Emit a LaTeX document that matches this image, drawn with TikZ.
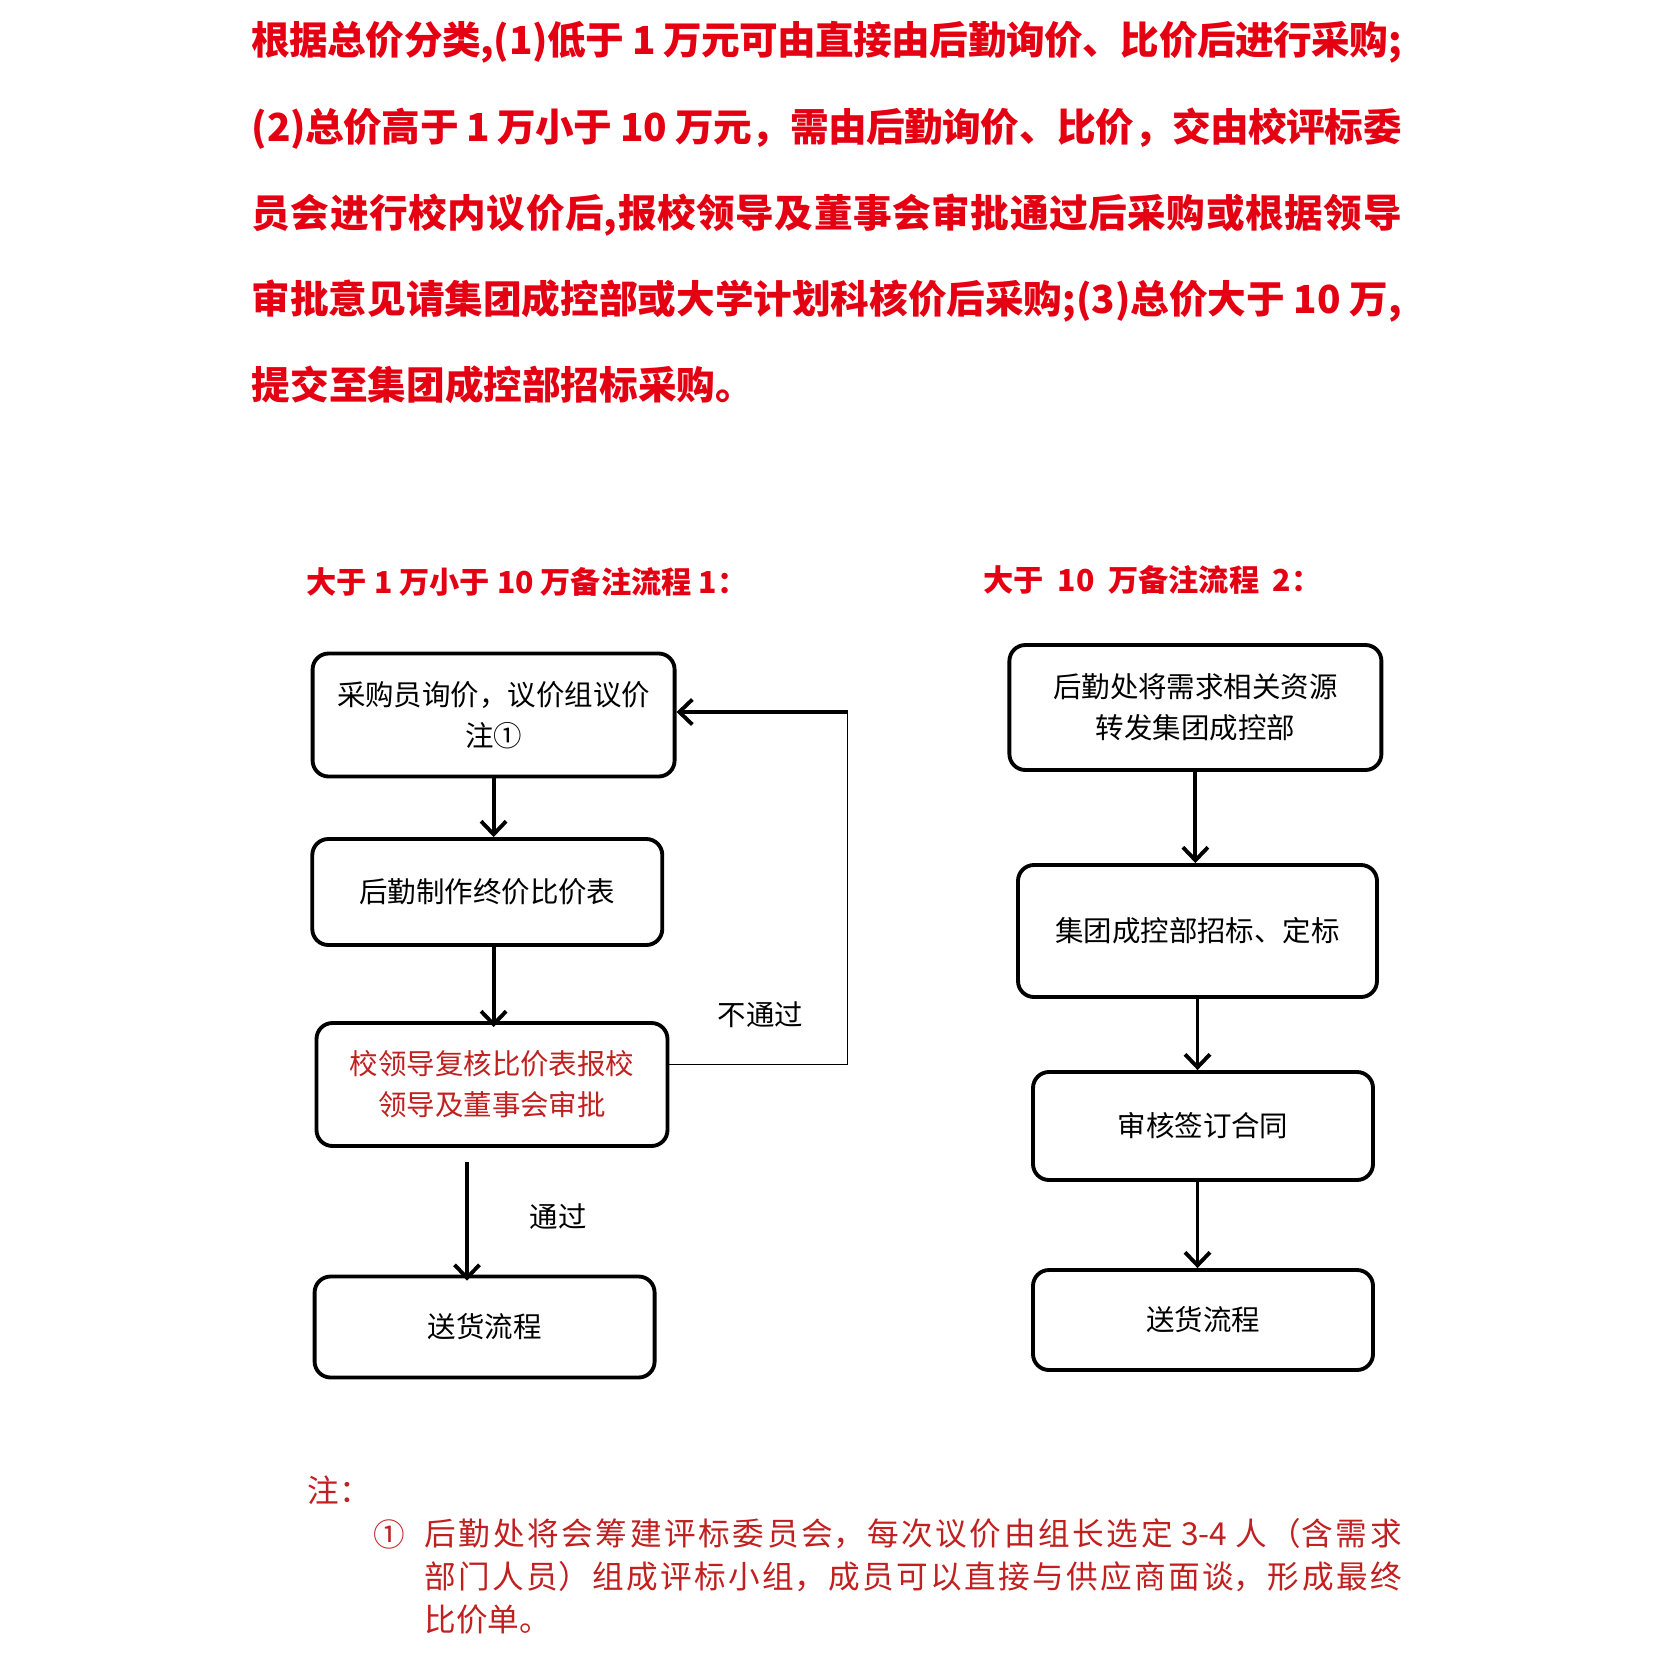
\documentclass[tikz,border=0pt]{standalone}
\usepackage{fontspec}
\setmainfont{Noto Sans CJK SC}
\XeTeXlinebreaklocale "zh"
\XeTeXlinebreakskip=0pt plus 2pt minus 0.4pt
\usetikzlibrary{positioning,arrows.meta}
\definecolor{topred}{RGB}{228,0,18}
\definecolor{notered}{RGB}{192,32,32}

\begin{document}
\begin{tikzpicture}[x=0.1mm,y=-0.1mm,>={Straight Barb[length=1.3mm,width=2.5mm]},
  every node/.style={inner sep=0pt},
  box/.style={draw,line width=1.1pt,rounded corners=1.6mm,align=center,font=\fontsize{8.1pt}{11.6pt}\selectfont},
  flow/.style={->,line width=1.1pt},
  head/.style={anchor=west,text=topred,font=\fontsize{8.6pt}{10pt}\selectfont\bfseries},
  lbl/.style={font=\fontsize{8.1pt}{10pt}\selectfont}]
  \useasboundingbox (0,0) rectangle (1661,1661);
  % rules
  \node[anchor=north west,text width=115mm,align=justify,text=topred,
    font=\fontsize{11pt}{24.5pt}\selectfont\bfseries] (intro) at (251,21)
    {根据总价分类,(1)低于 1 万元可由直接由后勤询价、比价后进行采购;\linebreak
     (2)总价高于 1 万小于 10 万元，需由后勤询价、比价，交由校评标委\linebreak
     员会进行校内议价后,报校领导及董事会审批通过后采购或根据领导\linebreak
     审批意见请集团成控部或大学计划科核价后采购;(3)总价大于 10 万,\linebreak
     提交至集团成控部招标采购。};
  % flow 1
  \node[head] (head1) at (306,582) {大于 1 万小于 10 万备注流程 1：};
  \node[box,minimum width=36.2mm,minimum height=12.3mm] (ask) at (493.6,715) {采购员询价，议价组议价\\注①};
  \node[box,minimum width=35mm,minimum height=10.6mm] (table) at (487.3,892) {后勤制作终价比价表};
  \node[box,minimum width=35.1mm,minimum height=12.3mm,text=notered] (check) at (492,1084.5) {校领导复核比价表报校\\领导及董事会审批};
  \node[box,minimum width=34mm,minimum height=10.1mm] (ship1) at (484.6,1327) {送货流程};
  \draw[flow] (ask.south) -- (ask.south |- table.north);
  \draw[flow] (ask.south |- table.south) -- ([yshift=-0.6mm]ask.south |- check.north);
  \coordinate (passtop) at (467,1162);
  \draw[flow] (passtop) -- ([yshift=-0.6mm]passtop |- ship1.north);
  \node[lbl] (pass) at (558,1217) {通过};
  \coordinate (backlow) at (847.5,1064.6);
  \coordinate (backtop) at (847.5,712);
  \draw[line width=0.35pt] (check.east |- backlow) -- (backlow) -- (backtop);
  \draw[flow] (backtop) -- (ask.east |- backtop);
  \node[lbl] (fail) at (760.6,1015) {不通过};
  % flow 2
  \node[head] (head2) at (983,580) {大于\hspace{0.45em}10\hspace{0.45em}万备注流程\hspace{0.45em}2：};
  \node[box,minimum width=37.2mm,minimum height=12.5mm] (fwd) at (1195.4,707.5) {后勤处将需求相关资源\\转发集团成控部};
  \node[box,minimum width=35.9mm,minimum height=13.2mm] (bid) at (1197.5,931) {集团成控部招标、定标};
  \node[box,minimum width=34mm,minimum height=10.8mm] (sign) at (1203,1126) {审核签订合同};
  \node[box,minimum width=34mm,minimum height=10mm] (ship2) at (1203,1320) {送货流程};
  \draw[flow] (fwd.south) -- (fwd.south |- bid.north);
  \draw[flow] (bid.south) -- (bid.south |- sign.north);
  \draw[flow] (bid.south |- sign.south) -- (bid.south |- ship2.north);
  % note
  \node[anchor=west,text=notered,font=\fontsize{9pt}{12pt}\selectfont] (notehead) at (307,1490) {注：};
  \node[anchor=west,text=notered,font=\fontsize{9pt}{12pt}\selectfont] (mark) at (373,1534) {①};
  \node[anchor=north west,text width=97.7mm,align=justify,text=notered,
    font=\fontsize{9pt}{12.2pt}\selectfont] (note) at (424,1518)
    {后勤处将会筹建评标委员会，每次议价由组长选定 3-4 人（含需求\linebreak
     部门人员）组成评标小组，成员可以直接与供应商面谈，形成最终\linebreak
     比价单。};
\end{tikzpicture}
\end{document}
